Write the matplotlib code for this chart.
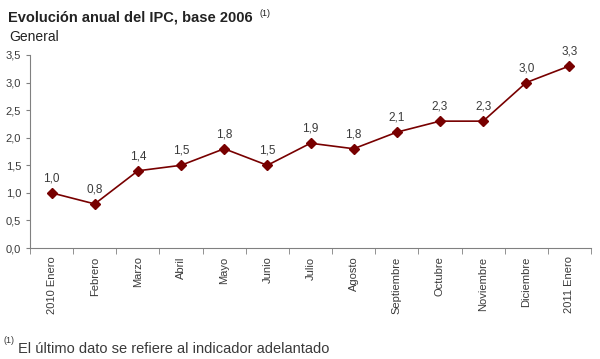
import matplotlib.pyplot as plt
import numpy as np

# Monthly IPC annual variation, base 2006
months = ['2010 Enero', 'Febrero', 'Marzo', 'Abril', 'Mayo', 'Junio', 'Julio',
          'Agosto', 'Septiembre', 'Octubre', 'Noviembre', 'Diciembre', '2011 Enero']
values = [1.0, 0.8, 1.4, 1.5, 1.8, 1.5, 1.9, 1.8, 2.1, 2.3, 2.3, 3.0, 3.3]

line_color = '#780000'
text_color = '#3a3a3a'
axis_color = '#808080'

plt.rcParams['font.family'] = ['Liberation Sans', 'DejaVu Sans']

fig = plt.figure(figsize=(6, 3.59), dpi=100)
ax = fig.add_axes([0.05, 0.309, 0.935, 0.538])

x = np.arange(len(months))
ax.plot(x, values, color=line_color, linewidth=1.2, marker='D', markersize=5.5)

for xi, v in zip(x, values):
    ax.annotate(f'{v:.1f}'.replace('.', ','), (xi, v), xytext=(0, 6),
                textcoords='offset points', ha='center', va='bottom',
                fontsize=8.5, color=text_color)

ax.set_xlim(-0.5, len(months) - 0.5)
ax.set_ylim(0, 3.5)
ax.set_yticks(np.arange(0, 3.51, 0.5))
ax.set_yticklabels([f'{t:.1f}'.replace('.', ',') for t in np.arange(0, 3.51, 0.5)])

ax.set_xticks(x)
ax.set_xticklabels(months, rotation=90, fontsize=8, color=text_color)
ax.set_xticks(np.arange(-0.5, len(months), 1), minor=True)
ax.tick_params(axis='x', which='major', length=0, pad=6)
ax.tick_params(axis='x', which='minor', length=4, color=axis_color, direction='out')
ax.tick_params(axis='y', length=3, color=axis_color, labelsize=8, labelcolor=text_color)

for side in ['top', 'right']:
    ax.spines[side].set_visible(False)
for side in ['left', 'bottom']:
    ax.spines[side].set_color(axis_color)

fig.text(0.013, 0.94, 'Evolución anual del IPC, base 2006', fontsize=10.5,
         fontweight='bold', color='#222222')
fig.text(0.432, 0.955, '(1)', fontsize=6.5, color='#222222')
fig.text(0.015, 0.885, 'General', fontsize=10, color='#222222')
fig.text(0.005, 0.045, '(1)', fontsize=6.5, color=text_color)
fig.text(0.03, 0.018, 'El último dato se refiere al indicador adelantado',
         fontsize=10.5, color=text_color)

plt.savefig('out.png', dpi=100)
